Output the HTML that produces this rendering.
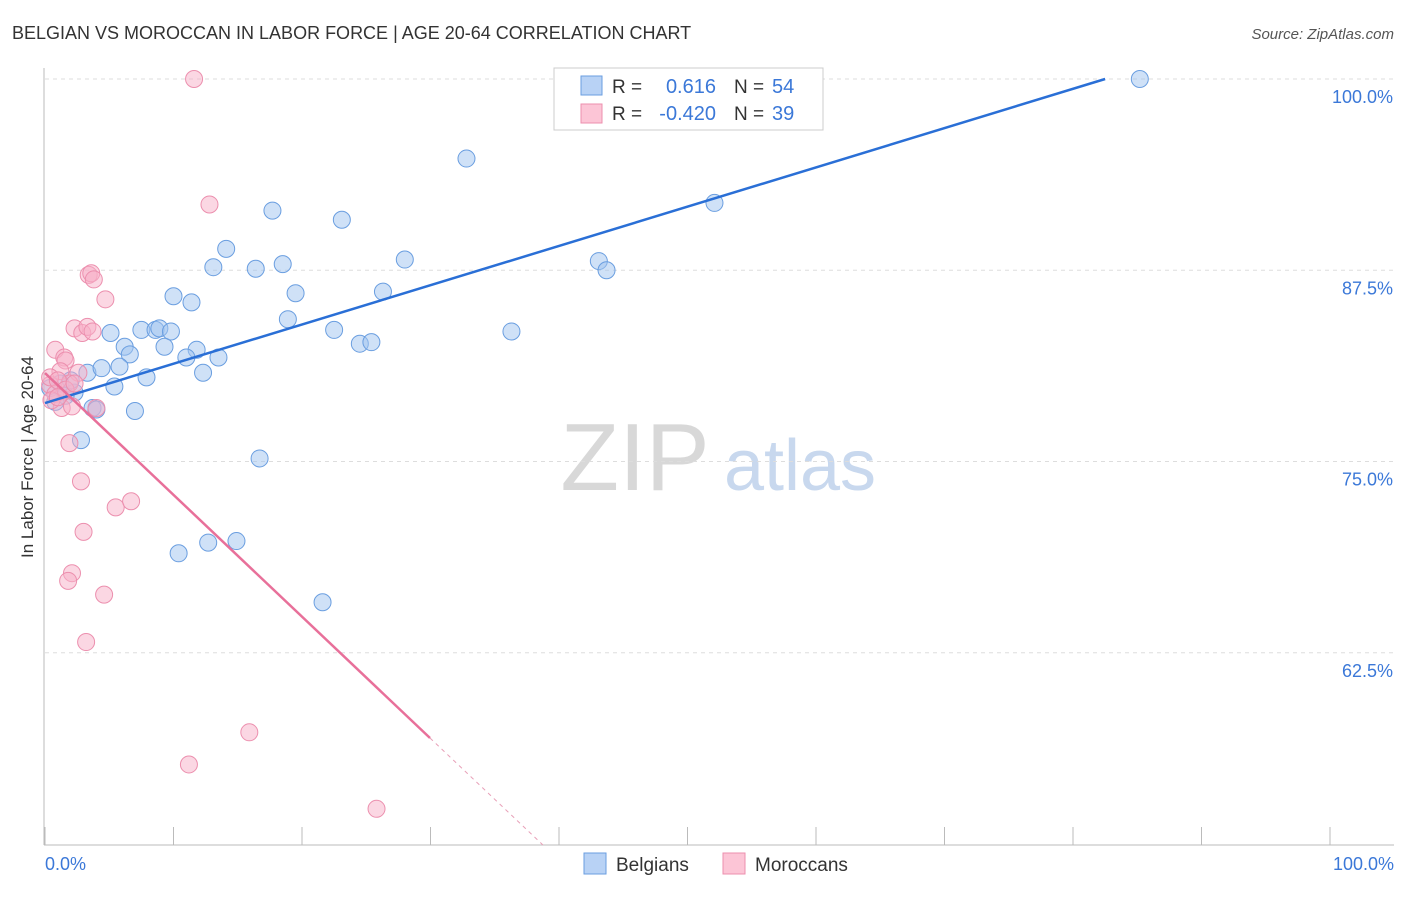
<!DOCTYPE html>
<html><head><meta charset="utf-8"><style>
body{margin:0;background:#fff;font-family:"Liberation Sans",sans-serif}
svg text{font-family:"Liberation Sans",sans-serif}
</style></head><body>
<svg id="chart" width="1406" height="892" viewBox="0 0 1406 892">
<text x="12" y="39" font-size="18" fill="#333">BELGIAN VS MOROCCAN IN LABOR FORCE | AGE 20-64 CORRELATION CHART</text>
<text x="1394" y="39" font-size="15" fill="#555" text-anchor="end" font-style="italic">Source: ZipAtlas.com</text>
<text transform="translate(33,457) rotate(-90)" font-size="17" fill="#333" text-anchor="middle">In Labor Force | Age 20-64</text>
<g>
<text x="635" y="490" font-size="96" fill="#d8d8d8" text-anchor="middle" font-family="Liberation Serif">ZIP</text>
<text x="800" y="490" font-size="72" fill="#c8d8ee" text-anchor="middle">atlas</text>
</g>
<g id="grid"></g><g id="axes"></g><g id="pts"></g><g id="trend"></g>
<g>
<rect x="554" y="68" width="269" height="62" fill="#fff" stroke="#ccc"/>
<rect x="581" y="76" width="21" height="19" fill="#b8d2f5" stroke="#6a9ee0"/>
<rect x="581" y="104" width="21" height="19" fill="#fcc5d6" stroke="#ec8fae"/>
<text x="612" y="93" font-size="19" fill="#333">R =</text><text x="716" y="93" font-size="20" fill="#3b78d8" text-anchor="end">0.616</text>
<text x="734" y="93" font-size="19" fill="#333">N =</text><text x="772" y="93" font-size="20" fill="#3b78d8">54</text>
<text x="612" y="120" font-size="19" fill="#333">R =</text><text x="716" y="120" font-size="20" fill="#3b78d8" text-anchor="end">-0.420</text>
<text x="734" y="120" font-size="19" fill="#333">N =</text><text x="772" y="120" font-size="20" fill="#3b78d8">39</text>
</g>
<g>
<rect x="584" y="853" width="22" height="21" fill="#b8d2f5" stroke="#6a9ee0"/><text x="616" y="871" font-size="19" fill="#333">Belgians</text>
<rect x="723" y="853" width="22" height="21" fill="#fcc5d6" stroke="#ec8fae"/><text x="755" y="871" font-size="19" fill="#333">Moroccans</text>
</g>
</svg>
<script>
const yTicks=[100,87.5,75,62.5];
const yTickLabels=["100.0%","87.5%","75.0%","62.5%"];
const xEndLabels=["0.0%","100.0%"];
const blueX=[85.2,48.8,32.8,52.1,17.7,23.1,14.1,13.1,16.4,18.5,28.0,43.1,43.7,10.0,11.4,19.5,26.3,18.9,5.1,7.5,8.6,8.9,9.8,22.5,36.3,6.2,9.3,6.6,11.8,11.0,13.5,24.5,25.4,3.3,4.4,5.8,7.9,12.3,5.4,2.3,1.2,0.4,0.8,3.7,4.0,7.0,2.8,16.7,10.4,12.7,14.9,21.6,1.6,2.0];
const blueY=[100,99.9,94.8,91.9,91.4,90.8,88.9,87.7,87.6,87.9,88.2,88.1,87.5,85.8,85.4,86.0,86.1,84.3,83.4,83.6,83.6,83.7,83.5,83.6,83.5,82.5,82.5,82.0,82.3,81.8,81.8,82.7,82.8,80.8,81.1,81.2,80.5,80.8,79.9,79.5,80.1,79.8,78.9,78.5,78.4,78.3,76.4,75.2,69.0,69.7,69.8,65.8,79.3,80.3];
const pinkX=[11.6,12.8,3.4,3.6,3.8,4.7,2.3,2.9,3.3,3.7,0.8,1.5,1.6,1.2,2.6,1.9,0.4,0.8,1.3,2.1,4.0,1.9,2.8,5.5,6.7,3.0,2.1,1.8,4.6,3.2,15.9,11.2,25.8,0.4,1.0,1.6,2.3,0.5,1.0];
const pinkY=[100,91.8,87.2,87.3,86.9,85.6,83.7,83.4,83.8,83.5,82.3,81.8,81.6,80.9,80.8,80.1,80.0,79.4,78.5,78.6,78.5,76.2,73.7,72.0,72.4,70.4,67.7,67.2,66.3,63.2,57.3,55.2,52.3,80.5,80.3,79.7,80.1,79.0,79.2];
const blueTrend=[78.82,100];   // value at x=0, x at which line ends reaches 100 (slope from these)
const blueTrendEndX=82.5;
const pinkTrend=[80.78,56.93]; // values at x=0 and x=pinkSolidEnd
const pinkSolidEnd=29.96;
const X0=45,X1=1330,YTOP=79,PPU=15.3,YBOT=845;
const xs=v=>X0+(X1-X0)*v/100, ys=v=>YTOP+(100-v)*PPU;
const NS="http://www.w3.org/2000/svg";
function mk(tag,parent,attrs){const e=document.createElementNS(NS,tag);for(const k in attrs)e.setAttribute(k,attrs[k]);document.getElementById(parent).appendChild(e);return e;}
yTicks.forEach((t,i)=>{
 const g=mk('line','grid',{x1:X0,x2:1394,y1:ys(t),y2:ys(t),stroke:'#ddd','stroke-dasharray':'4,4'});
 
 
 const l=mk('text','grid',{x:1393,y:ys(t)+24,'font-size':18,fill:'#3b78d8','text-anchor':'end'});l.textContent=yTickLabels[i];
 
 
});
const ax=mk('line','axes',{x1:44,x2:44,y1:68,y2:YBOT,stroke:'#bbb'});


const bx=mk('line','axes',{x1:44,x2:1394,y1:YBOT,y2:YBOT,stroke:'#bbb'});


for(let i=0;i<=10;i++){const t=mk('line','axes',{x1:xs(i*10),x2:xs(i*10),y1:827,y2:YBOT,stroke:'#bbb'});
 
 }
[[0,'start',45],[100,'end',1394]].forEach((d,i)=>{const l=mk('text','axes',{x:d[2],y:870,'font-size':18,fill:'#3b78d8','text-anchor':d[1]});l.textContent=xEndLabels[i];
 
 });
blueX.forEach((x,i)=>{const c=mk('circle','pts',{cx:xs(x),cy:ys(blueY[i]),r:8.5,fill:'rgba(160,196,240,0.5)',stroke:'#6a9ee0','stroke-width':1});
 
 });
pinkX.forEach((x,i)=>{const c=mk('circle','pts',{cx:xs(x),cy:ys(pinkY[i]),r:8.5,fill:'rgba(248,176,200,0.5)',stroke:'#ec8fae','stroke-width':1});
 
 });
const bl=mk('line','trend',{x1:xs(0),y1:ys(blueTrend[0]),x2:xs(blueTrendEndX),y2:ys(blueTrend[1]),stroke:'#2a6fd6','stroke-width':2.5});


const slope=(pinkTrend[1]-pinkTrend[0])/pinkSolidEnd;
const pl=mk('line','trend',{x1:xs(0),y1:ys(pinkTrend[0]),x2:xs(pinkSolidEnd),y2:ys(pinkTrend[1]),stroke:'#e8709a','stroke-width':2.5});


const yMin=100-(YBOT-YTOP)/PPU, xEnd=(yMin-pinkTrend[0])/slope;
const pd=mk('line','trend',{x1:xs(pinkSolidEnd),y1:ys(pinkTrend[1]),x2:xs(xEnd),y2:ys(yMin),stroke:'#e8a0b8','stroke-width':1,'stroke-dasharray':'4,4'});


</script>
</body></html>
